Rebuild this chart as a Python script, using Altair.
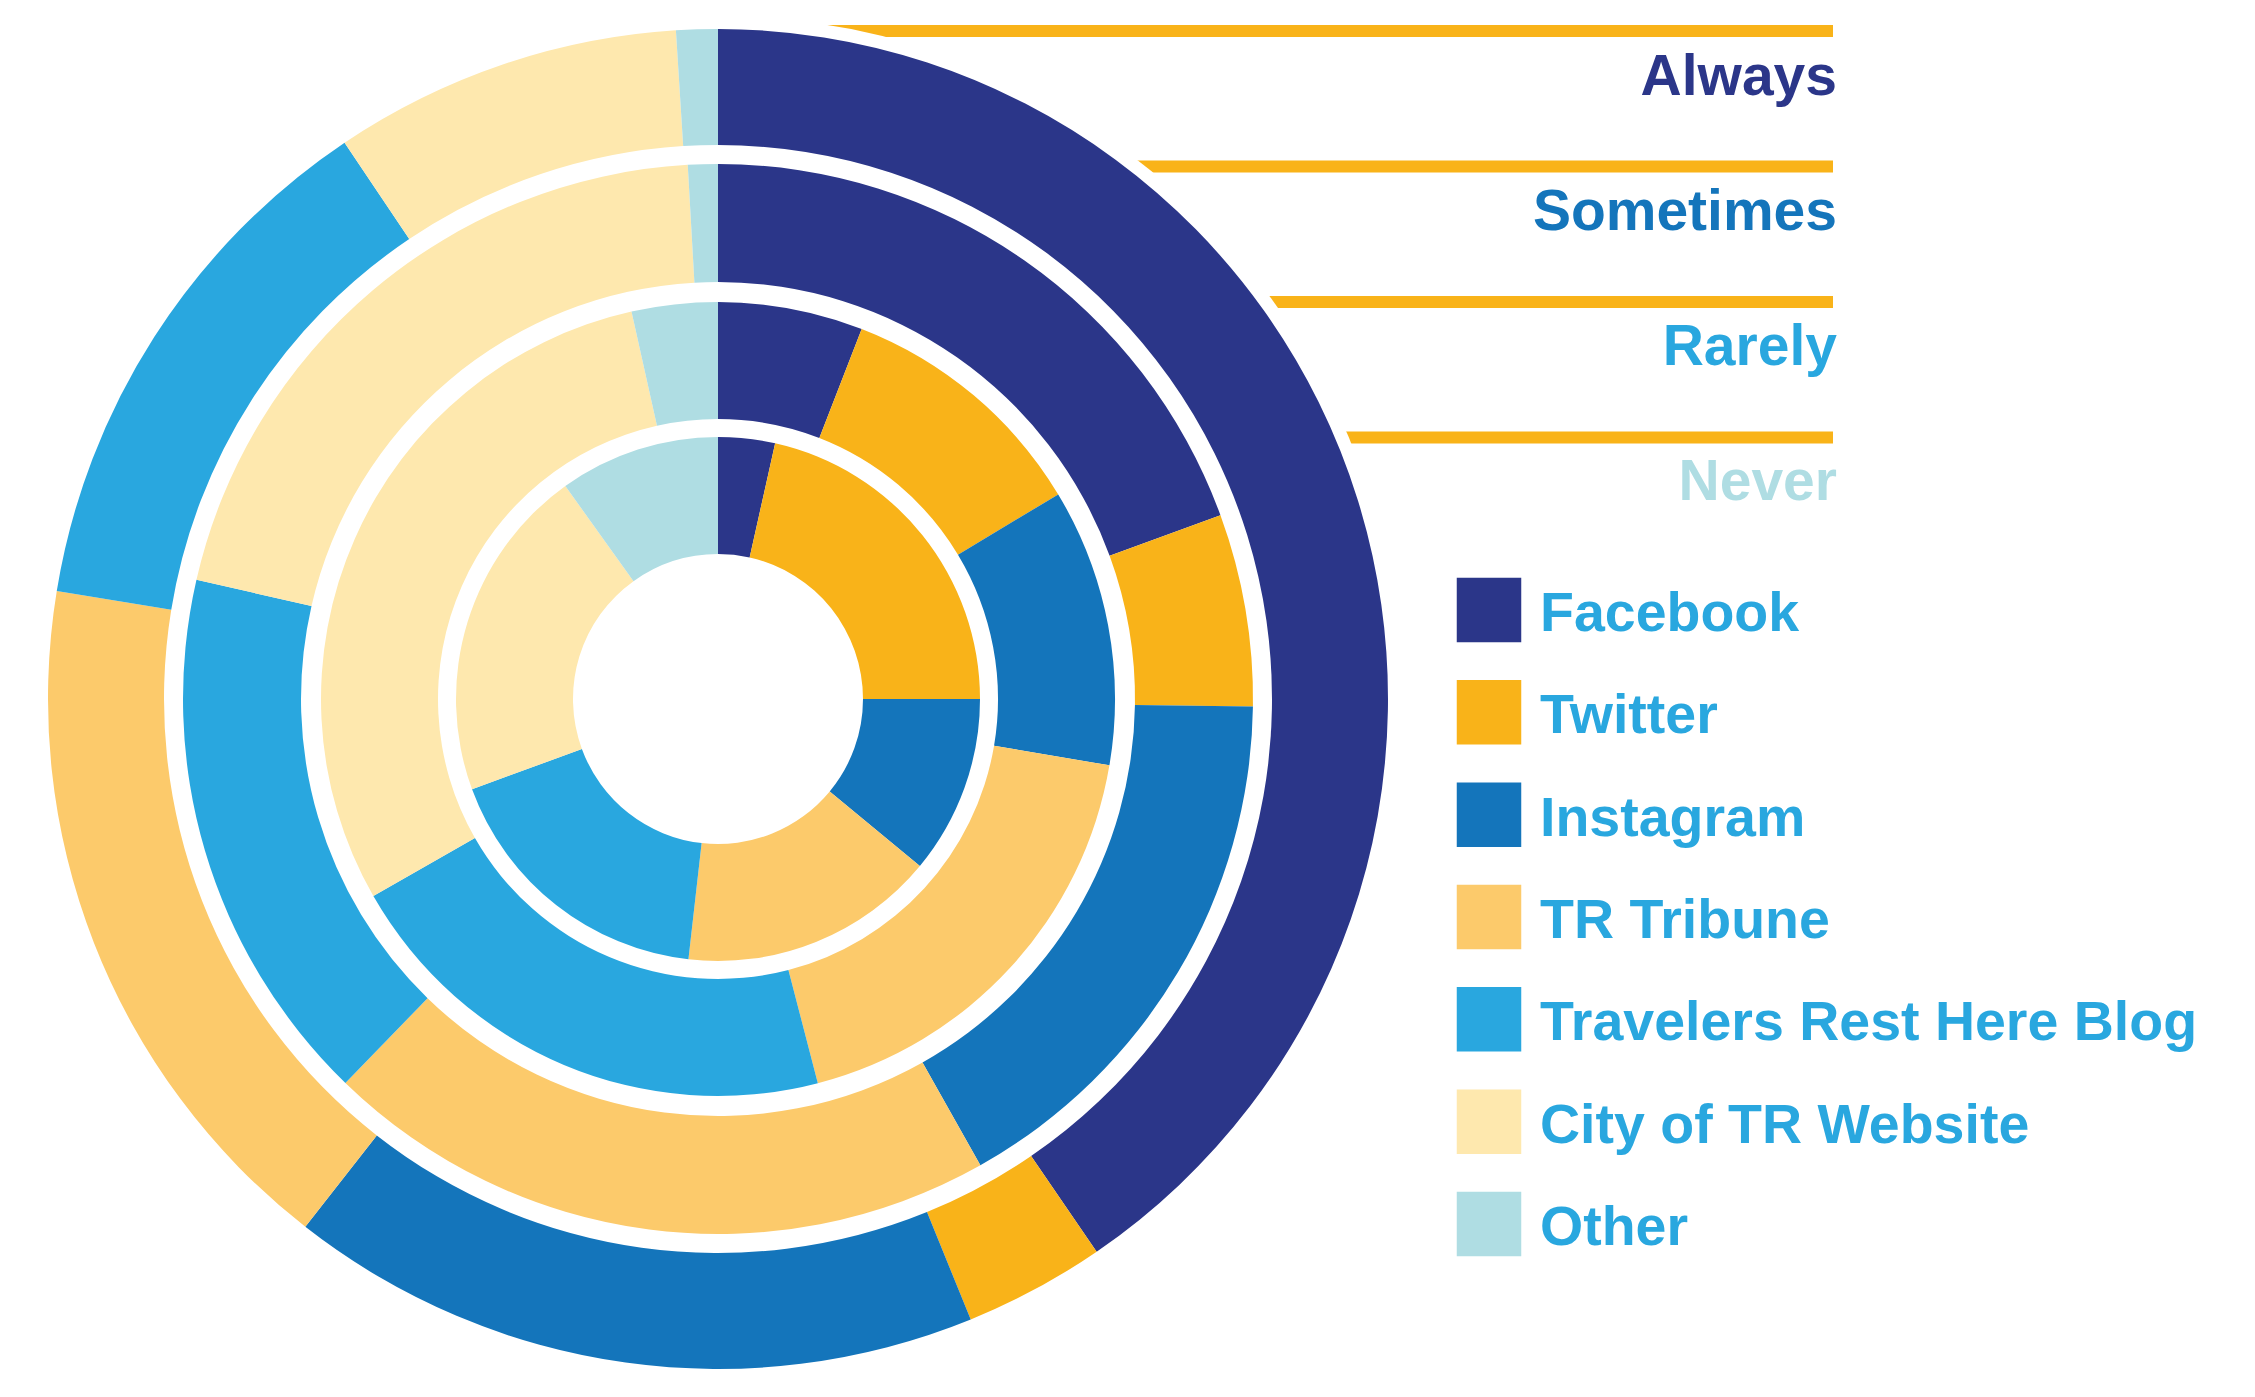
import altair as alt
import pandas as pd

sources = ["Facebook", "Twitter", "Instagram", "TR Tribune",
           "Travelers Rest Here Blog", "City of TR Website", "Other"]
colors = ["#2b3689", "#f9b319", "#1475bb", "#fcca6b", "#29a7df", "#fee8ae", "#afdde3"]

levels = ["Always", "Sometimes", "Rarely", "Never"]
level_colors = ["#2b3689", "#1475bb", "#29a7df", "#afdde3"]

always = [40.4, 3.4, 16.7, 17.0, 13.0, 8.4, 1.0]
sometimes = [19.4, 5.8, 16.6, 20.4, 16.3, 20.5, 0.9]
rarely = [5.9, 10.5, 11.3, 18.3, 20.8, 29.8, 3.5]
never = [3.5, 21.5, 11.0, 15.8, 17.6, 20.7, 9.9]

series = {"Always": always, "Sometimes": sometimes, "Rarely": rarely, "Never": never}

rows = []
for lvl in levels:
    for i, (s, v) in enumerate(zip(sources, series[lvl])):
        rows.append({"ring": lvl, "source": s, "order": i, "value": v})
df = pd.DataFrame(rows)

CX, CY = 710, 691
ring_radii = {"Always": (554, 670), "Sometimes": (417, 535), "Rarely": (280, 397), "Never": (145, 262)}

color = alt.Color("source:N", scale=alt.Scale(domain=sources, range=colors), legend=None)

layers = []

# orange leader lines and level labels
for i, lvl in enumerate(levels):
    layers.append(
        alt.Chart(pd.DataFrame({"level": [lvl]})).mark_rule(
            color="#f9b319", strokeWidth=12, strokeCap="butt"
        ).encode(x=alt.value(CX), x2=alt.value(1825), y=alt.value(23 + i * 135.5))
    )
    layers.append(
        alt.Chart(pd.DataFrame({"level": [lvl]})).mark_text(
            align="right", baseline="alphabetic", font="Liberation Sans",
            fontWeight="bold", fontSize=57, color=level_colors[i]
        ).encode(text="level:N", x=alt.value(1829), y=alt.value(87 + i * 135))
    )

# white halo behind the rings
layers.append(
    alt.Chart(pd.DataFrame({"k": [1]})).mark_arc(
        color="white", theta=0, theta2=6.2832, radius=683
    ).encode(x=alt.value(CX), y=alt.value(CY))
)

for lvl in levels:
    r2, r = ring_radii[lvl]
    layers.append(
        alt.Chart(df).transform_filter(alt.datum.ring == lvl).transform_stack(
            stack="value", as_=["v0", "v1"], groupby=["ring"], offset="normalize",
            sort=[alt.SortField("order", "ascending")]
        ).mark_arc(strokeWidth=0).encode(
            theta=alt.Theta("v0:Q", scale=alt.Scale(domain=[0, 1])),
            theta2="v1:Q",
            color=color,
            x=alt.value(CX), y=alt.value(CY),
            radius=alt.value(r), radius2=alt.value(r2),
            order=alt.Order("order:Q"),
        )
    )

legend_df = pd.DataFrame({"source": sources})
ly = alt.Y("source:N", scale=alt.Scale(type="point", domain=sources, range=[602, 1216], padding=0), axis=None)
layers.append(
    alt.Chart(legend_df).mark_square(size=4160, opacity=1, filled=True).encode(
        x=alt.value(1481), y=ly, color=color
    )
)
layers.append(
    alt.Chart(legend_df).mark_text(
        align="left", baseline="alphabetic", dy=21, font="Liberation Sans",
        fontWeight="bold", fontSize=55.5, color="#29a7df"
    ).encode(x=alt.value(1532), y=ly, text="source:N")
)

chart = alt.layer(*layers).properties(
    width=2239, height=1381, autosize="none", padding=0
).configure_view(stroke=None)

chart.save("out.html", embed_options={"renderer": "svg", "actions": False})
